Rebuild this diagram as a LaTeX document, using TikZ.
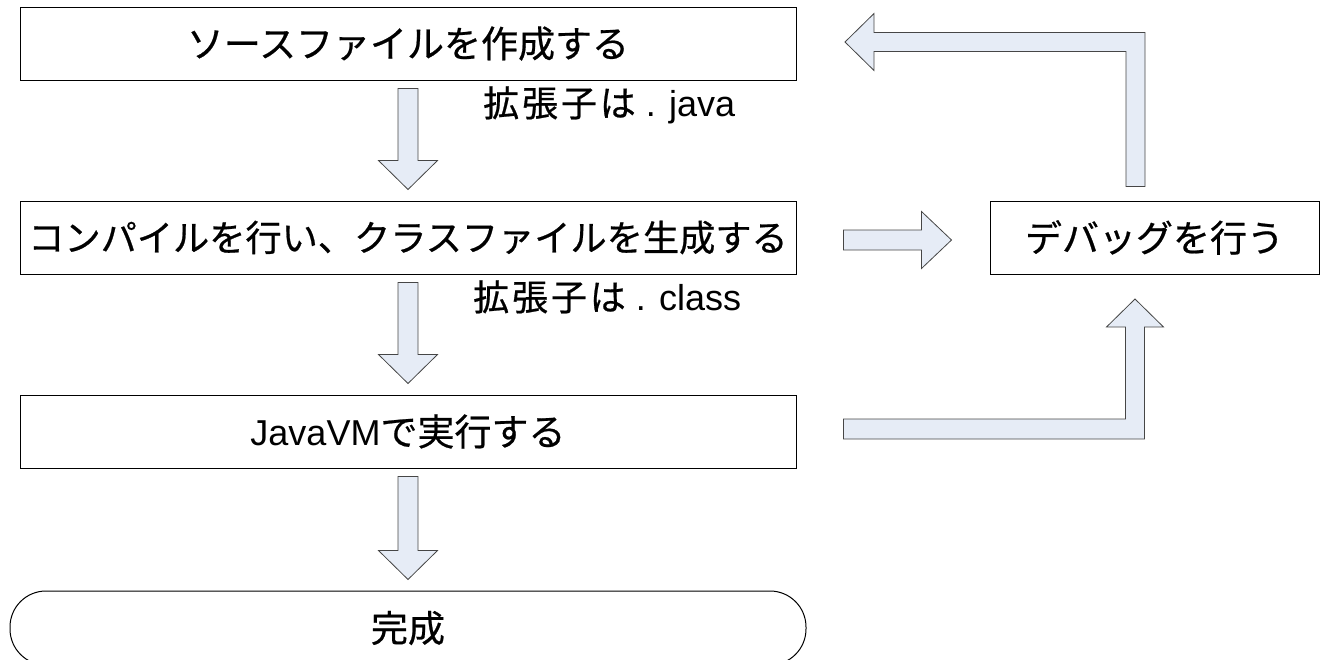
\documentclass[tikz,border=0pt]{standalone}
\usepackage{fontspec}
\setmainfont{Noto Sans CJK JP}[FakeBold=0.6]
\newfontfamily\latinfont{Liberation Sans}
\newfontfamily\extfont{Noto Sans CJK JP}[LetterSpace=8, FakeBold=0.6]
\usetikzlibrary{positioning, calc}
\definecolor{arrowfill}{RGB}{230,236,246}
\definecolor{arrowline}{RGB}{70,70,70}

\begin{document}
\begin{tikzpicture}[x=1pt, y=-1pt]
	% Define styles
	\tikzset{
		block/.style={rectangle, draw, line width=1pt, minimum width=776pt, minimum height=73pt, inner sep=0pt, font=\fontsize{37}{40}\selectfont},
		term/.style={block, rounded corners=36pt, minimum width=796pt, minimum height=74pt},
		ext/.style={anchor=base west, inner sep=0pt, font=\fontsize{36}{38}\selectfont},
		barrow/.style={draw=arrowline, fill=arrowfill, line width=0.8pt, line join=miter}
	}
	\useasboundingbox (0,0) rectangle (1320,659);
	
	% Nodes
	\node[block] (src) at (408,43.5) {ソースファイルを作成する};
	\node[block, below=120pt of src, font=\fontsize{36.2}{40}\selectfont] (comp) {コンパイルを行い、クラスファイルを生成する};
	\node[block, below=120pt of comp] (run) {{\latinfont\fontsize{36}{40}\selectfont JavaVM}で実行する};
	\node[term, below=122pt of run] (done) {完成};
	\node[block, minimum width=329pt, right=193pt of comp] (debug) {デバッグを行う};
	
	\node[ext] (extjava) at ($(src.south)+(75,36)$) {{\extfont 拡張子は}{\latinfont\ . java}};
	\node[ext] (extclass) at ($(comp.south)+(65,36)$) {{\extfont 拡張子は}{\latinfont\ . class}};
	
	% Arrows
	\foreach \a/\b in {src/comp, comp/run, run/done} {
		\draw[barrow] ($(\a.south)+(-10,8)$) -- ($(\a.south)+(10,8)$)
			-- ($(\a.south |- \b.north)+(10,-40)$) -- ($(\a.south |- \b.north)+(29.5,-40)$)
			-- ($(\a.south |- \b.north)+(0,-11)$)
			-- ($(\a.south |- \b.north)+(-29.5,-40)$) -- ($(\a.south |- \b.north)+(-10,-40)$) -- cycle;
	}
	
	\draw[barrow] ($(comp.east)+(47,-7.5)$) -- ++(78,0) -- ++(0,-18.5) -- ++(30,28.5)
		-- ++(-30,28.5) -- ++(0,-18.5) -- ++(-78,0) -- cycle;
	
	\draw[barrow] ($(run.east)+(47,-12.5)$) -- ++(282,0) -- ++(0,-92) -- ++(-19,0)
		-- ++(28.5,-28) -- ++(28.5,28) -- ++(-19,0) -- ++(0,112) -- ++(-301,0) -- cycle;
	
	\draw[barrow] ($(debug.north)+(-28.5,-14)$) -- ++(0,-135) -- ++(-252,0) -- ++(0,19)
		-- ++(-29,-28.5) -- ++(29,-28.5) -- ++(0,19) -- ++(271,0) -- ++(0,154) -- cycle;
	
\end{tikzpicture}
\end{document}
